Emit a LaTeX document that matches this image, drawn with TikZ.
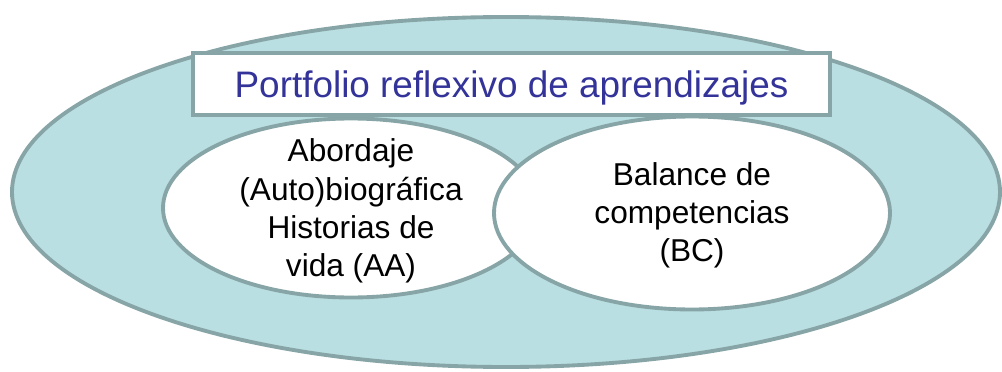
\documentclass[tikz,border=0pt]{standalone}
\usepackage{fontspec}
\setmainfont{Liberation Sans}
\usetikzlibrary{positioning}
\definecolor{vennfill}{RGB}{185,223,226}
\definecolor{vennline}{RGB}{135,165,166}
\definecolor{titleblue}{RGB}{51,51,153}
\tikzset{
  rim/.style={draw=vennline, line width=2.2pt},
  venntext/.style={align=center, font=\fontsize{18}{21.7}\selectfont}
}

\begin{document}
\begin{tikzpicture}[x=0.02cm,y=-0.02cm]
\useasboundingbox (0,0) rectangle (1002,372);
\filldraw[rim, fill=vennfill] (506,192) ellipse [x radius=494, y radius=175];
\node[rim, fill=white, minimum width=12.74cm, minimum height=1.24cm, inner sep=0pt, text depth=0pt, text=titleblue, font=\fontsize{21}{25}\selectfont] (title) at (511.5,84) {Portfolio reflexivo de aprendizajes};
\coordinate (AA) at (351,208);
\coordinate (BC) at (692,213);
\filldraw[rim, fill=white] (AA) ellipse [x radius=188, y radius=89.5];
\filldraw[rim, fill=white] (BC) ellipse [x radius=198, y radius=96.5];
\node[venntext] (aatext) at ([yshift=-0.06cm]AA) {Abordaje\\(Auto)biográfica\\Historias de\\vida (AA)};
\node[venntext] (bctext) at ([yshift=-0.04cm]BC) {Balance de\\competencias\\(BC)};
\end{tikzpicture}
\end{document}
